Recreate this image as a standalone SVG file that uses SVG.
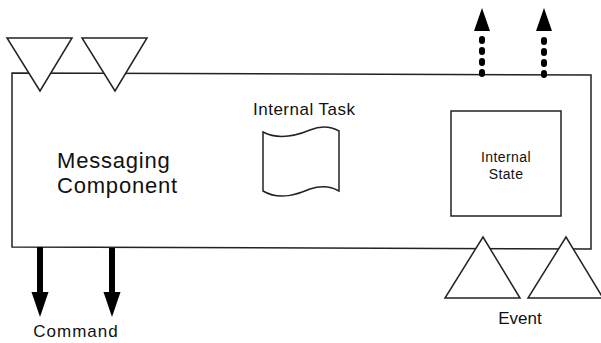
<svg xmlns="http://www.w3.org/2000/svg" width="601" height="343" viewBox="0 0 601 343">
<style>
.ln{fill:#fff;stroke:#222;stroke-width:1.5;}
.tx{font-family:"Liberation Sans",Arial,sans-serif;fill:#111;}
.shaft{stroke:#000;stroke-width:6;fill:none;}
.dot{stroke:#000;stroke-width:6;fill:none;stroke-dasharray:2 9;stroke-linecap:round;}
.head{fill:#000;}
</style>
<g id="component">
<polygon class="ln" points="12,73 591,75 591,249 12,247"/>
<text class="tx" x="57" y="168" font-size="22" letter-spacing="0.8">Messaging</text>
<text class="tx" x="57" y="193" font-size="22" letter-spacing="0.8">Component</text>
</g>
<g id="internal-task">
<text class="tx" x="253" y="115" font-size="17" letter-spacing="0.5">Internal Task</text>
<path class="ln" d="M263,132 C280,141 298,135 310,130 C322,125 332,127 339,131 L339,191 C332,187 322,185 310,189 C298,194 280,201 263,191 Z"/>
</g>
<g id="internal-state">
<rect class="ln" x="451" y="111" width="110" height="105"/>
<text class="tx" x="506" y="162" font-size="14" text-anchor="middle" letter-spacing="0.4">Internal</text>
<text class="tx" x="506" y="179" font-size="14" text-anchor="middle" letter-spacing="0.4">State</text>
</g>
<g id="input-ports">
<polygon class="ln" points="7,38 72,38 40,91"/>
<polygon class="ln" points="82,38 147,38 115,91"/>
</g>
<g id="event-ports">
<polygon class="ln" points="483,237 520,298 445,298"/>
<polygon class="ln" points="566,237 603,298 528,298"/>
<text class="tx" x="520" y="324" font-size="17" text-anchor="middle">Event</text>
</g>
<g id="connectors">
<line class="shaft" x1="40" y1="247" x2="40" y2="295"/>
<polygon class="head" points="31.5,292 48.5,292 40,317"/>
<line class="shaft" x1="112" y1="248" x2="112" y2="295"/>
<polygon class="head" points="103.5,292 120.5,292 112,317"/>
<line class="dot" x1="482" y1="74" x2="482" y2="38"/>
<polygon class="head" points="474,31 490,31 482,8"/>
<line class="dot" x1="544" y1="75" x2="544" y2="38"/>
<polygon class="head" points="536,31 552,31 544,8"/>
</g>
<text class="tx" x="76" y="337" font-size="17" text-anchor="middle" letter-spacing="1">Command</text>
</svg>
